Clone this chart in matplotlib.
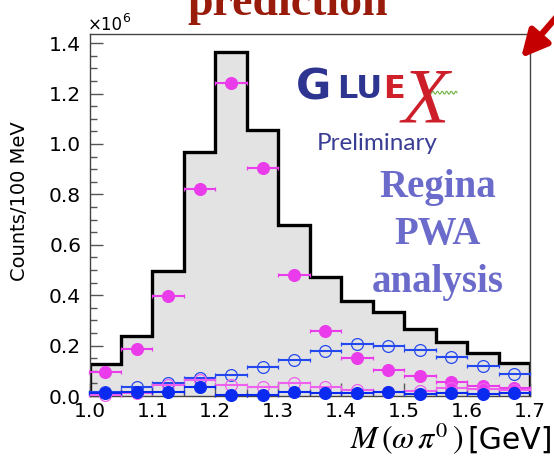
import numpy as np
import matplotlib
matplotlib.use("Agg")
import matplotlib.pyplot as plt
from matplotlib.ticker import MultipleLocator, FormatStrFormatter

plt.rcParams['font.family'] = ['DejaVu Sans']
plt.rcParams['mathtext.fontset'] = 'stix'

# ---------------- data ----------------
bin_edges = [1.00, 1.05, 1.10, 1.15, 1.20, 1.25, 1.30, 1.35, 1.40, 1.45, 1.50, 1.55, 1.60, 1.65, 1.70]
hist_total = [0.127, 0.239, 0.496, 0.970, 1.366, 1.056, 0.679, 0.471, 0.378, 0.335, 0.265, 0.213, 0.172, 0.132]
pink_filled = [0.096, 0.187, 0.397, 0.820, 1.243, 0.906, 0.480, 0.258, 0.152, 0.103, 0.078, 0.054, 0.040, 0.031]
blue_open = [0.017, 0.035, 0.053, 0.070, 0.083, 0.114, 0.143, 0.178, 0.205, 0.200, 0.183, 0.153, 0.121, 0.088]
pink_open = [0.003, 0.011, 0.045, 0.062, 0.044, 0.037, 0.050, 0.037, 0.024, 0.014, 0.020, 0.030, 0.026, 0.022]
blue_filled = [0.011, 0.017, 0.017, 0.037, 0.004, 0.004, 0.017, 0.010, 0.010, 0.017, 0.008, 0.010, 0.008, 0.010]
x_ticks = [1.0, 1.1, 1.2, 1.3, 1.4, 1.5, 1.6, 1.7]
y_ticks = [0.0, 0.2, 0.4, 0.6, 0.8, 1.0, 1.2, 1.4]

edges = np.array(bin_edges)
centers = 0.5 * (edges[:-1] + edges[1:])
half_w = 0.5 * (edges[1:] - edges[:-1])

W, H = 554, 462
fig = plt.figure(figsize=(W / 100, H / 100), dpi=100)
ax = fig.add_axes([89.5 / W, 1 - 396 / H, (530 - 89.5) / W, (396 - 34) / H])

# histogram
ax.stairs(hist_total, edges, baseline=0, fill=True, color='#e3e3e3', zorder=1)
ax.stairs(hist_total, edges, baseline=0, color='black', lw=2.4, zorder=2)

MAG = '#ea3cea'
BLU = '#0a2af0'

def pts(vals, color, filled, z):
    ax.errorbar(centers, vals, xerr=half_w, fmt='o', ms=8.5,
                mfc=color if filled else 'none', mec=color,
                mew=0.9, ecolor=color, elinewidth=1.5, capsize=1.5,
                capthick=1.5, clip_on=False, zorder=z)

pts(pink_filled, MAG, True, 3)
pts(blue_open, '#2448f0', False, 4)
pts(pink_open, '#ee60ee', False, 5)
pts(blue_filled, BLU, True, 6)

ax.set_xlim(1.0, 1.7)
ax.set_ylim(0, 1.4365)
ax.set_xticks(x_ticks)
ax.set_yticks(y_ticks)
ax.xaxis.set_minor_locator(MultipleLocator(0.05))
ax.yaxis.set_minor_locator(MultipleLocator(0.05))
ax.xaxis.set_major_formatter(FormatStrFormatter('%.1f'))
ax.yaxis.set_major_formatter(FormatStrFormatter('%.1f'))
ax.tick_params(axis='both', which='both', direction='in', top=False, right=False,
               labelsize=14.5, color='#555555')
ax.tick_params(axis='y', which='major', length=9.5, width=1.0, pad=6)
ax.tick_params(axis='y', which='minor', length=5, width=1.0)
ax.tick_params(axis='x', which='major', length=9.5, width=1.0, pad=4)
ax.tick_params(axis='x', which='minor', length=5, width=1.0)
for s in ax.spines.values():
    s.set_color('#444444')
    s.set_linewidth(1.0)

# axis texts
fig.text(20 / W, 1 - 201 / H, 'Counts/100 MeV', rotation=90, ha='center', va='center', fontsize=14)
fig.text(88 / W, 1 - 30 / H, '×10', ha='left', va='baseline', fontsize=12)
fig.text(122 / W, 1 - 22 / H, '6', ha='left', va='baseline', fontsize=9)
fig.text(463 / W, 1 - 449 / H, r'$M\,(\omega\,\pi^{0}\,)$', ha='right', va='baseline', fontsize=23)
fig.text(553 / W, 1 - 449 / H, '[GeV]', ha='right', va='baseline', fontsize=21.5)

# title fragment (cut by the top edge, as in the reference)
fig.text(288 / W, 1 - 15 / H, 'prediction', ha='center', va='baseline', fontsize=33,
         family='Liberation Serif', weight='bold', color='#981b0b')

# red arrow
ax.annotate('', xy=(521 / W, 1 - 58 / H), xytext=(1.06, 1.04), xycoords='figure fraction',
            textcoords='figure fraction', annotation_clip=False,
            arrowprops=dict(arrowstyle='-|>', color='#c40000', lw=4.5, mutation_scale=40,
                            shrinkA=0, shrinkB=0))

# GlueX logo (text)
fig.text(296 / W, 1 - 99.5 / H, 'G', ha='left', va='baseline', fontsize=31, weight='bold', color='#2d3590')
fig.text(337 / W, 1 - 98.5 / H, 'LU', ha='left', va='baseline', fontsize=23, weight='bold', color='#2d3590')
fig.text(383 / W, 1 - 98.5 / H, 'E', ha='left', va='baseline', fontsize=23, weight='bold', color='#d0202a')
fig.text(402 / W, 1 - 121 / H, 'X', ha='left', va='baseline', fontsize=56, style='italic',
         family='Liberation Serif', color='#cc1f2a')
wx = np.linspace(425, 457, 120)
wy = 92.7 + 1.4 * np.sin((wx - 425) / 32 * 2 * np.pi * 7)
fig.add_artist(plt.Line2D(wx / W, 1 - wy / H, color='#6cb33f', lw=0.8))
fig.text(317 / W, 1 - 150 / H, 'Preliminary', ha='left', va='baseline', fontsize=17.5,
         family='Lato', color='#3a3d94')

# Regina PWA analysis
for txt, yb in [('Regina', 196.7), ('PWA', 244), ('analysis', 291.7)]:
    fig.text(438 / W, 1 - yb / H, txt, ha='center', va='baseline', fontsize=28,
             family='Liberation Serif', weight='bold', color='#6b6bcb')

fig.savefig('out.png', dpi=100)
